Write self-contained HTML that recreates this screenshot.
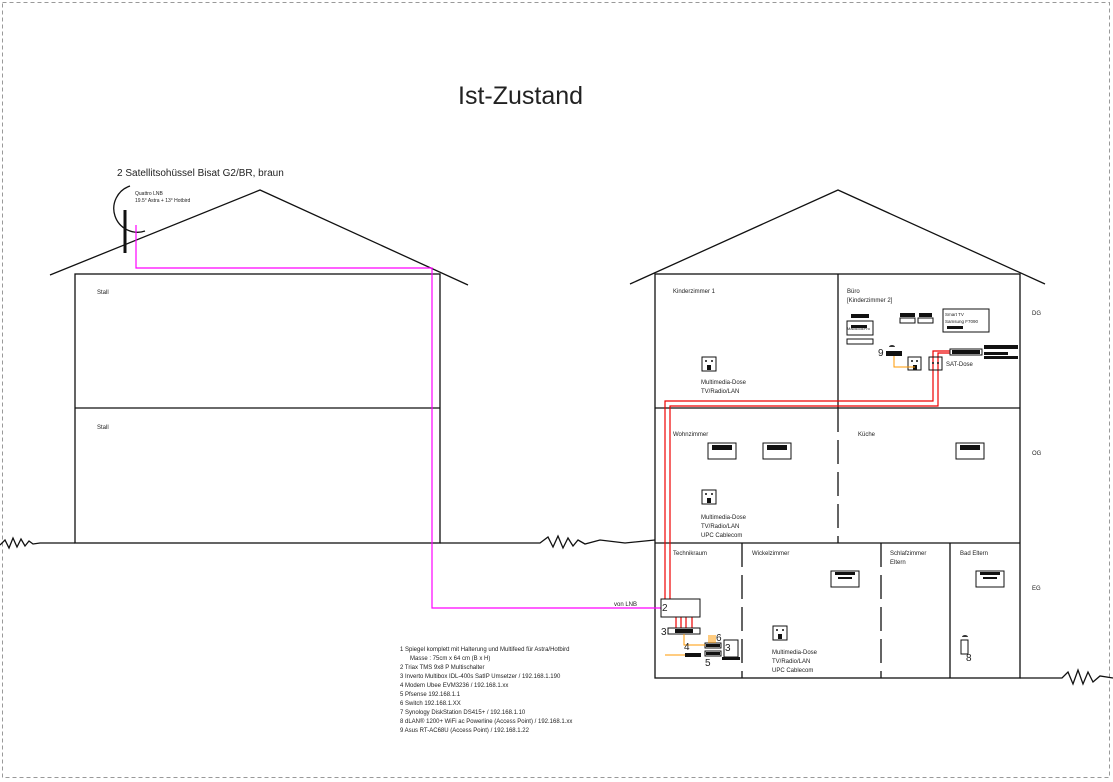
<!DOCTYPE html>
<html><head><meta charset="utf-8"><style>
html,body{margin:0;padding:0;background:#fff}
svg{display:block}
text{font-family:"Liberation Sans",sans-serif;fill:#222}
</style></head><body>
<svg width="1113" height="782" viewBox="0 0 1113 782" xmlns="http://www.w3.org/2000/svg">
<rect x="2.5" y="2.5" width="1107" height="775" fill="none" stroke="#999" stroke-dasharray="4,3"/>
<text x="458" y="104" font-size="25">Ist-Zustand</text>

<g stroke="#111" stroke-width="1.3" fill="none">
<polyline points="50,275 260,190 468,285"/>
<rect x="75" y="274" width="365" height="269"/>
<line x1="75" y1="408" x2="440" y2="408"/>
<polyline points="630,284 838,190 1045,284"/>
<rect x="655" y="274" width="365" height="404"/>
<line x1="655" y1="408" x2="1020" y2="408"/>
<line x1="655" y1="543" x2="1020" y2="543"/>
<line x1="838" y1="274" x2="838" y2="408"/>
<line x1="838" y1="408" x2="838" y2="543" stroke-dasharray="24,8"/>
<line x1="742" y1="543" x2="742" y2="678" stroke-dasharray="24,8"/>
<line x1="881" y1="543" x2="881" y2="678" stroke-dasharray="24,8"/>
<line x1="950" y1="543" x2="950" y2="678"/>
<polyline points="0,545 5,540 9,548 13,538 17,547 21,539 25,546 29,541 33,544 40,543 75,543"/>
<polyline points="440,543 540,543 548,537 553,547 558,536 563,548 568,538 573,546 578,540 585,544 600,540 625,543 655,540"/>
<polyline points="1020,678 1062,678 1068,672 1073,684 1078,670 1083,684 1088,672 1093,682 1100,676 1113,678"/>
<path d="M130,186 A 22,22 0 0 0 145,231" />
<line x1="125" y1="210" x2="125" y2="253" stroke-width="3"/>
</g>
<text x="117" y="176" font-size="10">2 Satellitsohüssel Bisat G2/BR, braun</text>
<text x="135" y="195" font-size="5">Quattro LNB</text>
<text x="135" y="202" font-size="5">19.5° Astra + 13° Hotbird</text>
<text x="97" y="294" font-size="6">Stall</text>
<text x="97" y="429" font-size="6">Stall</text>

<polyline points="136,225 136,268 432,268 432,608 661,608" fill="none" stroke="#f0f" stroke-width="1.2"/>
<text x="614" y="606" font-size="6">von LNB</text>

<g fill="none" stroke="#e00" stroke-width="1.2">
<polyline points="665,599 665,401 933,401 933,351 950,351"/>
<polyline points="670,599 670,406 938,406 938,353 950,353"/>
<line x1="676" y1="617" x2="676" y2="628"/><line x1="681" y1="617" x2="681" y2="628"/>
<line x1="686" y1="617" x2="686" y2="628"/><line x1="692" y1="617" x2="692" y2="628"/>
</g>

<g font-size="6">
<text x="673" y="293">Kinderzimmer 1</text>
<text x="847" y="293">Büro</text><text x="847" y="302">[Kinderzimmer 2]</text>
<text x="1032" y="315">DG</text><text x="1032" y="455">OG</text><text x="1032" y="590">EG</text>
<text x="701" y="384">Multimedia-Dose</text><text x="701" y="393">TV/Radio/LAN</text>
<text x="673" y="436">Wohnzimmer</text><text x="858" y="436">Küche</text>
<text x="701" y="519">Multimedia-Dose</text><text x="701" y="528">TV/Radio/LAN</text><text x="701" y="537">UPC Cablecom</text>
<text x="673" y="555">Technikraum</text><text x="752" y="555">Wickelzimmer</text>
<text x="890" y="555">Schlafzimmer</text><text x="890" y="564">Eltern</text>
<text x="960" y="555">Bad Eltern</text>
<text x="772" y="654">Multimedia-Dose</text><text x="772" y="663">TV/Radio/LAN</text><text x="772" y="672">UPC Cablecom</text>
<text x="946" y="366">SAT-Dose</text>
<text x="945" y="316" font-size="4.5">Smart TV</text><text x="945" y="323" font-size="4.5">Samsung F7090</text>
<text x="847" y="330" font-size="4">MacBookPro</text>
</g>

<g fill="none" stroke="#111" stroke-width="1">
<rect x="702" y="357" width="14" height="14"/><rect x="702" y="490" width="14" height="14"/>
<rect x="773" y="626" width="14" height="14"/>
<rect x="908" y="357" width="13" height="13"/><rect x="929" y="357" width="13" height="13"/>
<rect x="708" y="443" width="28" height="16"/><rect x="763" y="443" width="28" height="16"/>
<rect x="956" y="443" width="28" height="16"/>
<rect x="831" y="571" width="28" height="16"/><rect x="976" y="571" width="28" height="16"/>
<rect x="943" y="309" width="46" height="23"/>
<rect x="847" y="321" width="26" height="14"/><rect x="847" y="339" width="26" height="5"/>
<rect x="661" y="599" width="39" height="18"/>
<rect x="668" y="628" width="32" height="6"/>
<rect x="724" y="640" width="14" height="17"/>
<rect x="961" y="640" width="7" height="14"/>
<rect x="950" y="349" width="32" height="6"/>
<rect x="900" y="318" width="15" height="5"/><rect x="918" y="318" width="15" height="5"/>
<rect x="705" y="643" width="16" height="5"/><rect x="705" y="651" width="16" height="5"/>
</g>
<g fill="#111">
<circle cx="706" cy="361" r="1"/><circle cx="712" cy="361" r="1"/><rect x="707" y="365" width="4" height="5"/>
<circle cx="706" cy="494" r="1"/><circle cx="712" cy="494" r="1"/><rect x="707" y="498" width="4" height="5"/>
<circle cx="777" cy="630" r="1"/><circle cx="783" cy="630" r="1"/><rect x="778" y="634" width="4" height="5"/>
<circle cx="912" cy="361" r="1"/><circle cx="917" cy="361" r="1"/><rect x="913" y="365" width="4" height="5"/>
<circle cx="933" cy="363" r="1"/><circle cx="938" cy="363" r="1"/>
<rect x="712" y="445" width="20" height="5"/><rect x="767" y="445" width="20" height="5"/><rect x="960" y="445" width="20" height="5"/>
<rect x="835" y="572" width="20" height="3"/><rect x="838" y="577" width="14" height="2"/>
<rect x="980" y="572" width="20" height="3"/><rect x="983" y="577" width="14" height="2"/>
<rect x="851" y="314" width="18" height="4"/><rect x="851" y="325" width="16" height="3"/>
<rect x="900" y="313" width="15" height="4"/><rect x="919" y="313" width="13" height="4"/>
<rect x="947" y="326" width="16" height="3"/>
<rect x="886" y="351" width="16" height="5"/>
<rect x="952" y="350" width="28" height="4"/>
<rect x="984" y="345" width="34" height="4"/><rect x="984" y="352" width="24" height="3"/><rect x="984" y="356" width="34" height="3"/>
<rect x="675" y="629" width="18" height="4"/>
<rect x="685" y="653" width="16" height="4"/>
<rect x="722" y="657" width="18" height="3"/>
<rect x="706" y="644" width="14" height="3"/><rect x="706" y="652" width="14" height="3"/>
</g>
<g fill="none" stroke="#f90" stroke-width="1">
<polyline points="894,356 894,367 915,367"/>
<polyline points="684,634 684,645 705,645"/>
<line x1="665" y1="655" x2="685" y2="655"/>
<line x1="709" y1="635" x2="709" y2="643"/><line x1="711" y1="635" x2="711" y2="643"/><line x1="713" y1="635" x2="713" y2="643"/><line x1="715" y1="635" x2="715" y2="643"/>
</g>
<g font-size="10">
<text x="878" y="356">9</text><text x="662" y="611">2</text><text x="661" y="635">3</text>
<text x="684" y="650">4</text><text x="716" y="641">6</text><text x="725" y="651">3</text>
<text x="705" y="666">5</text><text x="966" y="661">8</text>
</g>
<path d="M889,347 a3,2 0 0 1 6,0 z M962,637 a3,2 0 0 1 6,0 z" fill="#333"/>

<g font-size="6">
<text x="400" y="651">1   Spiegel komplett mit Halterung und Multifeed für Astra/Hotbird</text>
<text x="410" y="660">Masse : 75cm x 64 cm (B x H)</text>
<text x="400" y="669">2   Triax TMS 9x8 P Multischalter</text>
<text x="400" y="678">3   Inverto Multibox IDL-400s SatIP Umsetzer / 192.168.1.190</text>
<text x="400" y="687">4   Modem Ubee EVM3236 / 192.168.1.xx</text>
<text x="400" y="696">5   Pfsense 192.168.1.1</text>
<text x="400" y="705">6   Switch 192.168.1.XX</text>
<text x="400" y="714">7   Synology DiskStation DS415+ / 192.168.1.10</text>
<text x="400" y="723">8   dLAN® 1200+ WiFi ac Powerline (Access Point) / 192.168.1.xx</text>
<text x="400" y="732">9   Asus RT-AC68U (Access Point) / 192.168.1.22</text>
</g>
</svg>
</body></html>
